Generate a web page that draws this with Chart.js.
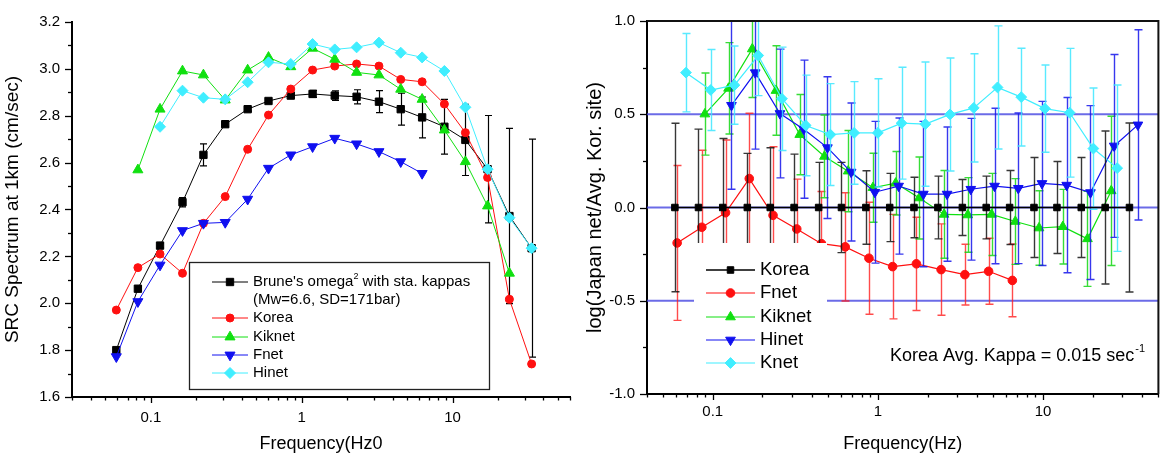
<!DOCTYPE html>
<html><head><meta charset="utf-8">
<script src="https://cdn.jsdelivr.net/npm/chart.js@4/dist/chart.umd.min.js"></script>
<style>
html,body{margin:0;padding:0;background:#fff;}
#wrap{position:relative;width:1165px;height:456px;overflow:hidden;background:#fff;}
#c1{position:absolute;left:0;top:0;}
#c2{position:absolute;left:582px;top:0;}
</style></head><body>
<div id="wrap"><canvas id="c1" width="582" height="456"></canvas><canvas id="c2" width="583" height="456"></canvas></div>
<script>
// ---------- data ----------
const freq = [0.059,0.082,0.115,0.162,0.223,0.311,0.438,0.602,0.846,1.18,1.655,2.31,3.25,4.53,6.28,8.82,12.15,17.05,23.8,33.4];
const xTickLabels = [0.1, 1, 10];

// left panel: SRC spectrum at 1 km (cm/sec)
const bruneSrc = [1.80,2.062,2.246,2.431,2.633,2.764,2.828,2.863,2.886,2.893,2.886,2.881,2.860,2.828,2.793,2.753,2.697,2.572,2.372,2.235];
const bruneErr = [0.005,0.008,0.01,0.02,0.047,0.01,0.008,0.008,0.01,0.015,0.02,0.03,0.047,0.068,0.087,0.117,0.152,0.229,0.374,0.465];
const koreaSrc = [1.971,2.152,2.210,2.128,2.341,2.455,2.657,2.803,2.914,2.995,3.012,3.021,3.012,2.955,2.945,2.850,2.728,2.537,2.017,1.741];
const kiknetFreqL = freq.slice(1,19);
const kiknetSrc = [2.569,2.828,2.991,2.974,2.867,2.995,3.049,3.009,3.088,3.041,2.985,2.974,2.913,2.870,2.739,2.604,2.415,2.128];
const fnetFreqL = freq.slice(0,15);
const fnetSrc = [1.772,2.007,2.163,2.310,2.341,2.345,2.444,2.576,2.633,2.668,2.704,2.680,2.647,2.604,2.554];
const hinetFreqL = freq.slice(2,20);
const hinetSrc = [2.753,2.907,2.877,2.870,2.943,3.028,3.021,3.106,3.083,3.092,3.112,3.069,3.049,2.991,2.836,2.572,2.365,2.235];
const leftYTicks = [1.6,1.8,2.0,2.2,2.4,2.6,2.8,3.0,3.2];

// right panel: log(Japan net / Avg. Korean site)
const rKoreaFreq = freq;
const rKorea = [0,0,0,0,0,0,0,0,0,0,0,0,0,0,0,0,0,0,0,0];
const rKoreaErr = [0.452,0.42,0.37,0.29,0.32,0.286,0.242,0.242,0.197,0.183,0.162,0.168,0.15,0.168,0.198,0.268,0.247,0.268,0.41,0.453];
const rFnetFreq = [0.0609,0.0859,0.1196,0.1665,0.2319,0.3228,0.4557,0.6346,0.8833,1.229,1.712,2.416,3.365,4.685,6.523];
const rFnet = [-0.190,-0.106,-0.028,0.155,-0.042,-0.115,-0.194,-0.211,-0.272,-0.317,-0.302,-0.333,-0.36,-0.342,-0.391];
const rFnetErr = [0.415,0.413,0.39,0.35,0.368,0.267,0.28,0.29,0.30,0.28,0.25,0.245,0.163,0.177,0.195];
const rKiknetFreq = [0.0896,0.1247,0.1736,0.2416,0.3365,0.4749,0.6613,0.9335,1.282,1.784,2.518,3.507,4.883,6.798,9.463,13.18,18.60,25.90];
const rKiknet = [0.501,0.639,0.85,0.627,0.391,0.274,0.195,0.106,0.13,0.051,-0.037,-0.04,-0.037,-0.075,-0.11,-0.103,-0.168,0.089];
const rKiknetErr = [0.22,0.245,0.26,0.24,0.215,0.222,0.218,0.185,0.17,0.22,0.235,0.2,0.22,0.23,0.2,0.2,0.255,0.4];
const rHinetFreq = [0.1299,0.1809,0.2554,0.3556,0.4951,0.6891,0.9594,1.336,1.886,2.626,3.656,5.089,7.086,9.863,13.92,19.39,26.99,37.57];
const rHinet = [0.548,0.723,0.504,0.42,0.321,0.19,0.082,0.115,0.072,0.072,0.098,0.115,0.103,0.129,0.12,0.08,0.33,0.443];
const rHinetErr = [0.45,0.41,0.345,0.37,0.38,0.37,0.38,0.365,0.39,0.36,0.38,0.417,0.404,0.44,0.47,0.466,0.49,0.51];
const rKnetFreq = [0.0689,0.0973,0.1354,0.1886,0.2626,0.3656,0.5159,0.7183,1.0,1.392,1.939,2.736,3.809,5.304,7.385,10.28,14.51,20.20,28.13];
const rKnet = [0.723,0.63,0.656,0.815,0.583,0.44,0.391,0.40,0.40,0.452,0.447,0.499,0.534,0.644,0.592,0.53,0.508,0.316,0.211];
const rKnetErr = [0.21,0.217,0.21,0.215,0.277,0.27,0.273,0.275,0.29,0.3,0.333,0.303,0.29,0.33,0.262,0.234,0.345,0.325,0.446];
const refLevels = [0.5, 0, -0.5];
const rightYTicks = [-1.0,-0.5,0.0,0.5,1.0];

// ---------- helpers ----------
const FONT = "'Liberation Sans', Arial, Helvetica, sans-serif";
Chart.defaults.font.family = FONT;
Chart.defaults.color = '#000';
const pts = (xs, ys) => xs.map((x,i)=>({x, y: ys[i]}));

function marker(ctx, style, r, rot, x, y){
  ctx.beginPath();
  if (style==='rect'){ const s=Math.SQRT1_2*r; ctx.rect(x-s,y-s,2*s,2*s); }
  else if (style==='circle'){ ctx.arc(x,y,r,0,Math.PI*2); }
  else if (style==='rectRot'){ ctx.moveTo(x,y-r); ctx.lineTo(x+r,y); ctx.lineTo(x,y+r); ctx.lineTo(x-r,y); ctx.closePath(); }
  else if (style==='triangle'){
    let a = (rot||0)*Math.PI/180;
    for(let k=0;k<3;k++){ const px=x+Math.sin(a)*r, py=y-Math.cos(a)*r; k?ctx.lineTo(px,py):ctx.moveTo(px,py); a+=2*Math.PI/3; }
    ctx.closePath();
  }
  ctx.fill(); ctx.stroke();
}

const errorBars = {
  id:'errorBars',
  beforeDatasetDraw(chart, args){
    const ds = chart.data.datasets[args.index];
    if (!ds.errors) return;
    const {ctx, chartArea:a, scales:{x,y}} = chart;
    ctx.save();
    ctx.beginPath(); ctx.rect(a.left, a.top-1, a.width, a.height+2); ctx.clip();
    ctx.strokeStyle = ds.errorColor; ctx.lineWidth = ds.errorWidth;
    ds.data.forEach((p,i)=>{
      const e = ds.errors[i];
      const px = Math.round(x.getPixelForValue(p.x))+0.5;
      const yt = y.getPixelForValue(p.y+e), yb = y.getPixelForValue(p.y-e);
      const c = ds.capHalf;
      ctx.beginPath();
      ctx.moveTo(px,yt); ctx.lineTo(px,yb);
      ctx.moveTo(px-c,yt); ctx.lineTo(px+c,yt);
      ctx.moveTo(px-c,yb); ctx.lineTo(px+c,yb);
      ctx.stroke();
    });
    ctx.restore();
  }
};

const axisTicks = {
  id:'axisTicks',
  afterDraw(chart, args, o){
    const {ctx, chartArea:a, scales:{x,y}} = chart;
    ctx.save(); ctx.strokeStyle='#000'; ctx.lineWidth=1.3;
    const d0=Math.floor(Math.log10(x.min)), d1=Math.ceil(Math.log10(x.max));
    for(let d=d0; d<=d1; d++) for(let m=1;m<=9;m++){
      const v=m*Math.pow(10,d);
      if (v<x.min*0.999 || v>x.max*1.001) continue;
      const px=Math.round(x.getPixelForValue(v))+0.5;
      const len = m===1 ? o.xMajor : o.xMinor;
      ctx.beginPath(); ctx.moveTo(px,a.bottom); ctx.lineTo(px,a.bottom+len); ctx.stroke();
    }
    const n = Math.round((y.max-y.min)/o.yMinorStep);
    for(let k=0;k<=n;k++){
      const v=y.min+k*o.yMinorStep;
      const py=Math.round(y.getPixelForValue(v))+0.5;
      const len = (k % o.yMajorEvery===0) ? o.yMajor : o.yMinor;
      ctx.beginPath(); ctx.moveTo(a.left,py); ctx.lineTo(a.left-len,py); ctx.stroke();
    }
    if (o.frame){
      ctx.lineWidth=2; ctx.strokeStyle='#111';
      ctx.beginPath(); ctx.moveTo(a.left,a.top); ctx.lineTo(a.right,a.top); ctx.lineTo(a.right,a.bottom); ctx.stroke();
    }
    ctx.restore();
  }
};

const panelLegend = {
  id:'panelLegend',
  afterDraw(chart, args, o){
    if (!o || !o.rows) return;
    const ctx = chart.ctx; ctx.save();
    const b = o.box;
    ctx.fillStyle='#fff'; ctx.fillRect(b.x,b.y,b.w,b.h);
    if (o.border){ ctx.strokeStyle='#222'; ctx.lineWidth=1.3; ctx.strokeRect(b.x+0.5,b.y+0.5,b.w,b.h); }
    ctx.textBaseline='middle'; ctx.textAlign='left';
    o.rows.forEach(r=>{
      if (r.ds!=null){
        const ds = chart.data.datasets[r.ds];
        ctx.strokeStyle = ds.borderColor; ctx.lineWidth = ds.borderWidth;
        ctx.beginPath(); ctx.moveTo(o.lineX0,r.y); ctx.lineTo(o.lineX1,r.y); ctx.stroke();
        ctx.fillStyle = ds.pointBackgroundColor; ctx.strokeStyle = ds.borderColor; ctx.lineWidth=1;
        marker(ctx, ds.pointStyle, ds.pointRadius, ds.pointRotation, (o.lineX0+o.lineX1)/2, r.y);
      }
      ctx.fillStyle='#000'; ctx.font = o.fontSize+'px '+FONT;
      let tx = o.textX;
      ctx.fillText(r.text, tx, r.y);
      if (r.sup){
        tx += ctx.measureText(r.text).width;
        ctx.font = Math.round(o.fontSize*0.6)+'px '+FONT;
        ctx.fillText(r.sup, tx, r.y-o.fontSize*0.38);
        tx += ctx.measureText(r.sup).width;
        ctx.font = o.fontSize+'px '+FONT;
        if (r.after) ctx.fillText(r.after, tx, r.y);
      }
    });
    if (o.note){
      const nt=o.note; ctx.font = nt.size+'px '+FONT; ctx.textBaseline='alphabetic';
      ctx.fillText(nt.text, nt.x, nt.y);
      const w = ctx.measureText(nt.text).width;
      ctx.font = Math.round(nt.size*0.6)+'px '+FONT;
      ctx.fillText(nt.sup, nt.x+w+1, nt.y-nt.size*0.5);
    }
    ctx.restore();
  }
};

function xScale(min, max, title, h, pad){
  return {
    type:'logarithmic', min, max,
    afterBuildTicks: s => { s.ticks = xTickLabels.map(v=>({value:v})); },
    afterFit: s => { s.height = h; },
    grid:{display:false, drawTicks:false},
    border:{display:true, color:'#000', width:2},
    ticks:{font:{size:15}, color:'#000', padding:pad, maxRotation:0, autoSkip:false, callback: v => String(v)},
    title:{display:true, text:title, font:{size:18}, color:'#000', padding:{top:0,bottom:1}}
  };
}
function yScale(min, max, tickVals, title, w, tsize){
  return {
    type:'linear', min, max,
    afterBuildTicks: s => { s.ticks = tickVals.map(v=>({value:v})); },
    afterFit: s => { s.width = w; },
    grid:{display:false, drawTicks:false},
    border:{display:true, color:'#000', width:2},
    ticks:{font:{size:15}, color:'#000', padding:12, callback: v => Number(v).toFixed(1)},
    title:{display:true, text:title, font:{size:tsize}, color:'#000', padding:{top:1,bottom:0}}
  };
}

function series(label, xs, ys, color, style, r, rot, lw, extra){
  return Object.assign({
    label, data: pts(xs, ys), borderColor: color, backgroundColor: color,
    pointBackgroundColor: color, pointBorderColor: color, pointBorderWidth: 1,
    pointStyle: style, pointRadius: r, pointRotation: rot||0, borderWidth: lw,
    tension: 0, fill: false
  }, extra||{});
}

const RED='#ff1010', GREEN='#10e010', BLUE='#1010f0', CYAN='#40eeff', BLACK='#000';

// ---------- left chart ----------
new Chart(document.getElementById('c1'), {
  type:'line',
  data:{datasets:[
    series('Hinet', hinetFreqL, hinetSrc, CYAN, 'rectRot', 5.5, 0, 1, {order:0}),
    series('Fnet', fnetFreqL, fnetSrc, BLUE, 'triangle', 5.8, 180, 1, {order:1}),
    series('Kiknet', kiknetFreqL, kiknetSrc, GREEN, 'triangle', 5.8, 0, 1, {order:2}),
    series('Korea', freq, koreaSrc, RED, 'circle', 4, 0, 1, {order:3}),
    series("Brune's omega2 with sta. kappas", freq, bruneSrc, BLACK, 'rect', 5.2, 0, 1,
      {order:4, errors: bruneErr, errorColor:'#000', errorWidth:1.2, capHalf:3.5})
  ]},
  options:{
    responsive:false, animation:false, events:[],
    layout:{padding:{left:0, top:22, right:12, bottom:0}},
    plugins:{
      legend:{display:false}, tooltip:{enabled:false},
      axisTicks:{xMajor:6, xMinor:3.5, yMajor:7, yMinor:4, yMinorStep:0.1, yMajorEvery:2, frame:false},
      panelLegend:{
        box:{x:189, y:262, w:300, h:127}, border:true, fontSize:15,
        lineX0:212, lineX1:248, textX:253,
        rows:[
          {ds:4, text:"Brune's omega", sup:'2', after:' with sta. kappas', y:282},
          {ds:null, text:'(Mw=6.6, SD=171bar)', y:300},
          {ds:3, text:'Korea', y:318},
          {ds:2, text:'Kiknet', y:337},
          {ds:1, text:'Fnet', y:355},
          {ds:0, text:'Hinet', y:373}
        ]
      }
    },
    scales:{
      x: xScale(0.03, 60, 'Frequency(Hz0', 59, 12),
      y: yScale(1.6, 3.2, leftYTicks, 'SRC Spectrum at 1km (cm/sec)', 72, 19)
    }
  },
  plugins:[errorBars, axisTicks, panelLegend]
});

// ---------- right chart ----------
const refDatasets = refLevels.map(v => ({
  label:'ref', data:[{x:0.04,y:v},{x:50,y:v}], borderColor:'rgba(70,70,225,0.8)', borderWidth:2,
  pointRadius:0, order:10, tension:0, fill:false
}));
new Chart(document.getElementById('c2'), {
  type:'line',
  data:{datasets:[
    series('Korea', rKoreaFreq, rKorea, BLACK, 'rect', 4.6, 0, 1.5,
      {order:0, errors:rKoreaErr, errorColor:'rgba(20,20,20,0.85)', errorWidth:1.4, capHalf:4}),
    series('Fnet', rFnetFreq, rFnet, RED, 'circle', 4.3, 0, 1.2,
      {order:4, errors:rFnetErr, errorColor:'rgba(255,30,30,0.8)', errorWidth:1.4, capHalf:4}),
    series('Kiknet', rKiknetFreq, rKiknet, GREEN, 'triangle', 5.6, 0, 1.2,
      {order:3, errors:rKiknetErr, errorColor:'rgba(20,215,20,0.85)', errorWidth:1.4, capHalf:4}),
    series('Hinet', rHinetFreq, rHinet, BLUE, 'triangle', 5.6, 180, 1.2,
      {order:2, errors:rHinetErr, errorColor:'rgba(20,20,235,0.85)', errorWidth:1.4, capHalf:4}),
    series('Knet', rKnetFreq, rKnet, CYAN, 'rectRot', 5.4, 0, 1.2,
      {order:1, errors:rKnetErr, errorColor:'rgba(60,230,255,0.85)', errorWidth:1.4, capHalf:4}),
    ...refDatasets
  ]},
  options:{
    responsive:false, animation:false, events:[],
    layout:{padding:{left:0, top:12, right:1, bottom:0}},
    plugins:{
      legend:{display:false}, tooltip:{enabled:false},
      axisTicks:{xMajor:6, xMinor:3.5, yMajor:7, yMinor:4, yMinorStep:0.25, yMajorEvery:2, frame:true},
      panelLegend:{
        box:{x:112, y:243, w:133, h:149}, border:false, fontSize:18.5,
        lineX0:124, lineX1:173, textX:178,
        rows:[
          {ds:0, text:'Korea', y:270},
          {ds:1, text:'Fnet', y:293},
          {ds:2, text:'Kiknet', y:317},
          {ds:3, text:'Hinet', y:340},
          {ds:4, text:'Knet', y:363}
        ],
        note:{text:'Korea Avg. Kappa = 0.015 sec', sup:'-1', x:308, y:361, size:18}
      }
    },
    scales:{
      x: xScale(0.04, 50, 'Frequency(Hz)', 62, 9),
      y: yScale(-1, 1, rightYTicks, 'log(Japan net/Avg. Kor. site)', 65, 20)
    }
  },
  plugins:[errorBars, axisTicks, panelLegend]
});
</script>
</body></html>
